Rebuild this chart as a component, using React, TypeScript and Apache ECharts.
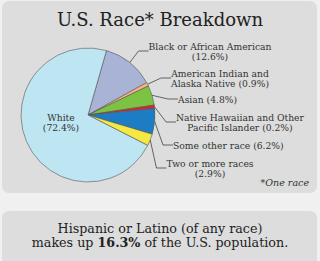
import React, { useEffect, useRef } from "react";
import * as echarts from "echarts";

const categories = [
  "Black or African American",
  "American Indian and Alaska Native",
  "Asian",
  "Native Hawaiian and Other Pacific Islander",
  "Some other race",
  "Two or more races",
  "White",
];
const values = [12.6, 0.9, 4.8, 0.2, 6.2, 2.9, 72.4];
const labelTexts = [
  "Black or African American\n(12.6%)",
  "American Indian and\nAlaska Native (0.9%)",
  "Asian (4.8%)",
  "Native Hawaiian and Other\nPacific Islander (0.2%)",
  "Some other race (6.2%)",
  "Two or more races\n(2.9%)",
  "White\n(72.4%)",
];
const colors = ["#a9b3d6", "#f5b487", "#7cc243", "#d8262c", "#1c7cc4", "#f6e843", "#bee5f2"];
// label anchor positions (layout only)
const labelPos: [number, number, string][] = [
  [210, 51, "center"],
  [220, 78, "center"],
  [178, 99, "left"],
  [240, 122, "center"],
  [173, 145, "left"],
  [210, 168, "center"],
  [61, 122, "center"],
];

const FONT = "'DejaVu Serif', serif";

export default function App() {
  const ref = useRef<HTMLDivElement>(null);
  useEffect(() => {
    document.body.style.margin = "0";
    const chart = echarts.init(ref.current!, null, { renderer: "svg" });
    chart.setOption({
      animation: false,
      backgroundColor: "#eff0ef",
      graphic: [
        { type: "rect", z: -10, shape: { x: 2, y: 1, width: 315, height: 192, r: 7 }, style: { fill: "#dcdddc" } },
        { type: "rect", z: -10, shape: { x: 2, y: 211, width: 315, height: 56, r: 7 }, style: { fill: "#dcdddc" } },
        {
          type: "text", left: "center", top: 10,
          style: { text: "U.S. Race* Breakdown", font: `18px ${FONT}`, fill: "#222" },
        },
        {
          type: "text", right: 11, top: 177,
          style: { text: "*One race", font: `italic 9.5px ${FONT}`, fill: "#333" },
        },
        {
          type: "text", left: "center", top: 222,
          style: { text: "Hispanic or Latino (of any race)", font: `12.7px ${FONT}`, fill: "#222" },
        },
        {
          type: "text", left: "center", top: 236,
          style: {
            rich: {
              n: { fontFamily: FONT, fontSize: 12.7, fill: "#222" },
              b: { fontFamily: FONT, fontSize: 12.7, fontWeight: "bold", fill: "#222" },
            },
            text: "{n|makes up }{b|16.3%}{n| of the U.S. population.}",
          },
        },
      ],
      series: [
        {
          type: "pie",
          center: [88, 115],
          radius: [0, 67],
          startAngle: 74,
          clockwise: true,
          minAngle: 3,
          avoidLabelOverlap: false,
          itemStyle: { borderColor: "#555", borderWidth: 0.6 },
          data: categories.map((c, i) => ({
            name: c,
            value: values[i],
            itemStyle: { color: colors[i] },
            label: {
              formatter: labelTexts[i],
              position: i === 6 ? "inside" : "outside",
            },
            labelLine: { show: i !== 6 },
          })),
          label: {
            fontFamily: FONT,
            fontSize: 9.2,
            color: "#333",
            lineHeight: 10,
          },
          labelLine: { length: 10, length2: 10, lineStyle: { color: "#444", width: 0.8 } },
          labelLayout: (p: any) => {
            const [x, y, align] = labelPos[p.dataIndex];
            return { x, y, align, verticalAlign: "middle" };
          },
        },
      ],
    });
    return () => chart.dispose();
  }, []);
  return <div ref={ref} style={{ width: 320, height: 261 }} />;
}
